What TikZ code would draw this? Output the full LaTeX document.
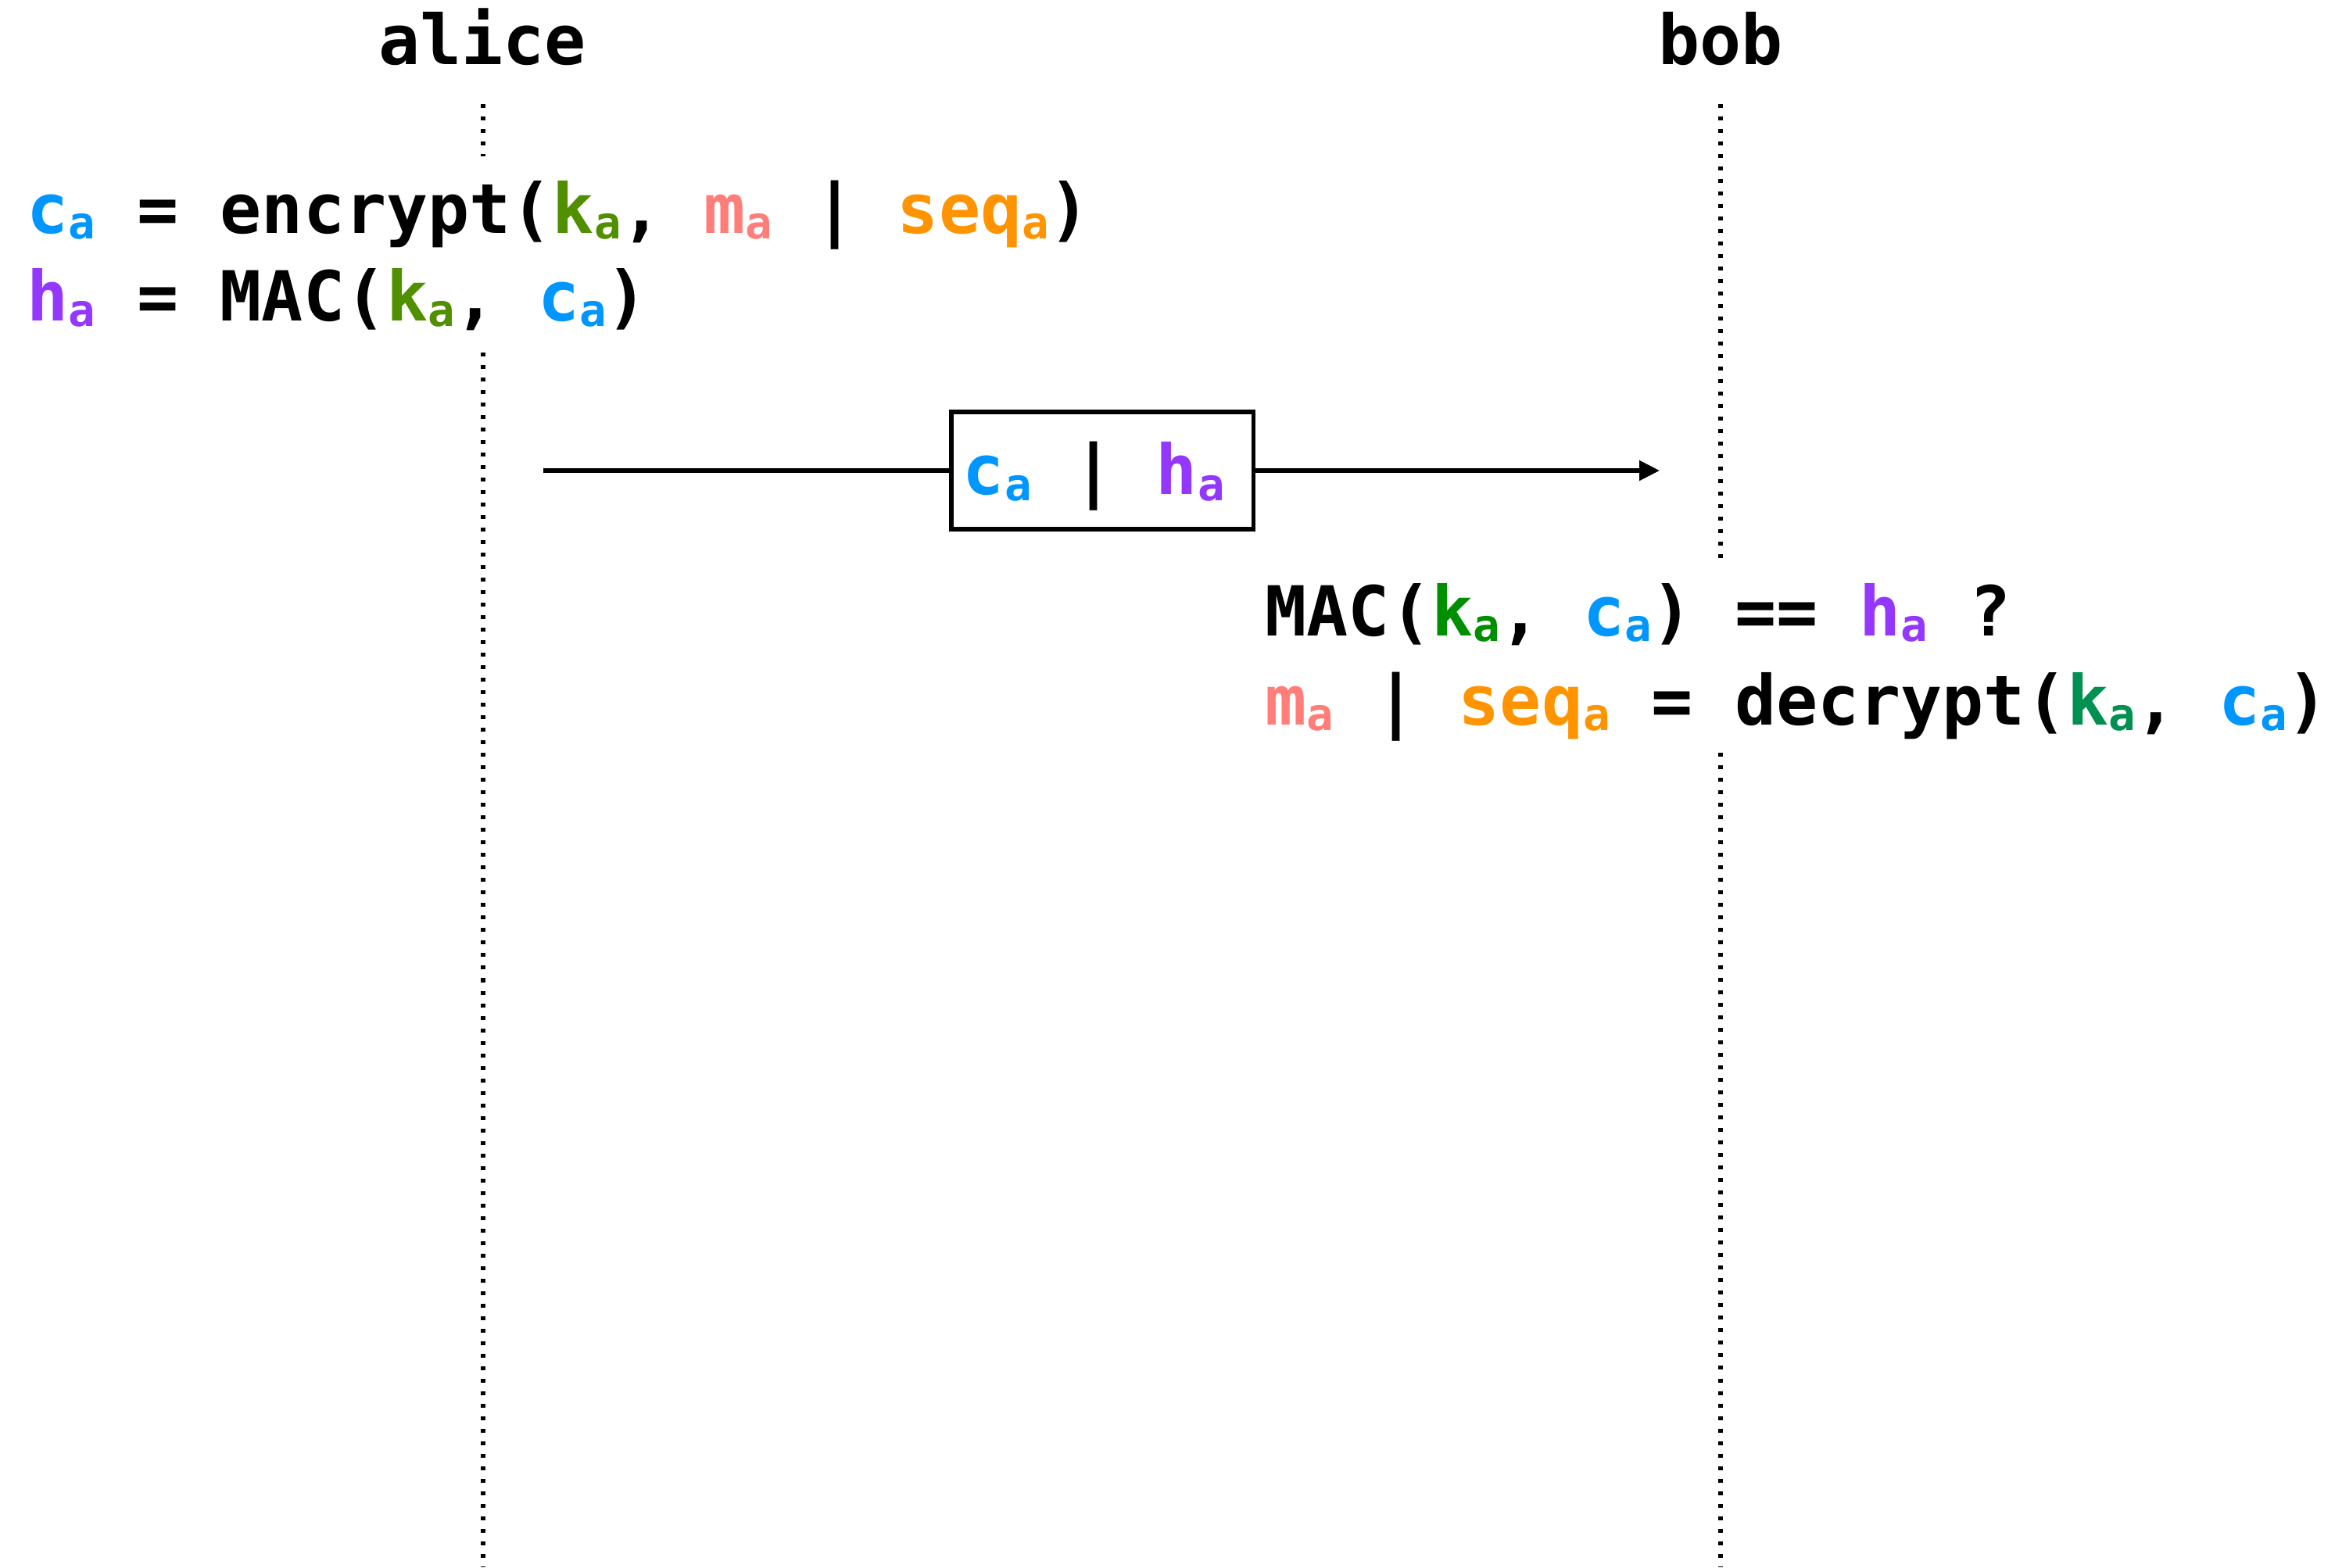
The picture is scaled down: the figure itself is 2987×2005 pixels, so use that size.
\documentclass[tikz,border=0pt]{standalone}
\usepackage{fontspec}
\setmainfont{DejaVu Sans Mono}
\usetikzlibrary{arrows.meta}
\definecolor{aqua}{HTML}{0096FF}
\definecolor{fern}{HTML}{4F8F00}
\definecolor{clover}{HTML}{008F00}
\definecolor{moss}{HTML}{009051}
\definecolor{salmonc}{HTML}{FF7E79}
\definecolor{tangerine}{HTML}{FF9300}
\definecolor{grape}{HTML}{9437FF}
\newcommand\sbs[1]{\raisebox{-2.2pt}{\fontsize{16.3}{16.3}\selectfont #1}}
\newcommand\vr[2]{\textcolor{#1}{#2}}
\begin{document}
\begin{tikzpicture}[x=0.01cm, y=-0.01cm,
  codefont/.style={font=\fontsize{25.1}{28}\selectfont\bfseries},
  lbl/.style={codefont, anchor=base, inner sep=0pt},
  eqline/.style={codefont, anchor=base west, inner sep=0pt},
  lifeline/.style={line width=0.055cm, dash pattern=on 0.05cm off 0.11cm},
  msgbox/.style={codefont, draw, line width=0.052cm, minimum width=3.86cm, minimum height=1.5cm,
    inner xsep=0.15cm, inner ysep=0pt, text height=20pt, text depth=2.4pt},
  msgline/.style={line width=0.052cm}
]
\useasboundingbox (0,0) rectangle (2987,2005);

% participants
\node[lbl] (alice) at (617,82) {alice};
\node[lbl] (bob) at (2201,82) {bob};

% lifeline coordinates
\coordinate (a0) at (618,133);
\coordinate (a1) at (618,200);
\coordinate (a2) at (618,451);
\coordinate (a3) at (618,2005);
\coordinate (b0) at (2201,133);
\coordinate (b1) at (2201,714);
\coordinate (b2) at (2201,963);
\coordinate (b3) at (2201,2005);
\draw[lifeline] (a0) -- (a1);
\draw[lifeline] (a2) -- (a3);
\draw[lifeline] (b0) -- (b1);
\draw[lifeline] (b2) -- (b3);

% alice computations
\node[eqline] (enc) at (34,298) {\vr{aqua}{c\sbs{a}} = encrypt(\vr{fern}{k\sbs{a}}, \vr{salmonc}{m\sbs{a}} | \vr{tangerine}{seq\sbs{a}})};
\node[eqline] (mac) at (34,410) {\vr{grape}{h\sbs{a}} = MAC(\vr{fern}{k\sbs{a}}, \vr{aqua}{c\sbs{a}})};

% message
\coordinate (src) at (695,602);
\coordinate (dst) at (2123,602);
\node[msgbox] (msg) at (1410,602) {\makebox[3.56cm][l]{\vr{aqua}{c\sbs{a}} | \vr{grape}{h\sbs{a}}}};
\draw[msgline] (src) -- (msg.west);
\draw[msgline, -{Triangle[length=0.26cm, width=0.25cm]}] (msg.east) -- (dst);

% bob computations
\node[eqline] (chk) at (1618,813) {MAC(\vr{clover}{k\sbs{a}}, \vr{aqua}{c\sbs{a}}) == \vr{grape}{h\sbs{a}} ?};
\node[eqline] (dec) at (1618,927) {\vr{salmonc}{m\sbs{a}} | \vr{tangerine}{seq\sbs{a}} = decrypt(\vr{moss}{k\sbs{a}}, \vr{aqua}{c\sbs{a}})};
\end{tikzpicture}
\end{document}
